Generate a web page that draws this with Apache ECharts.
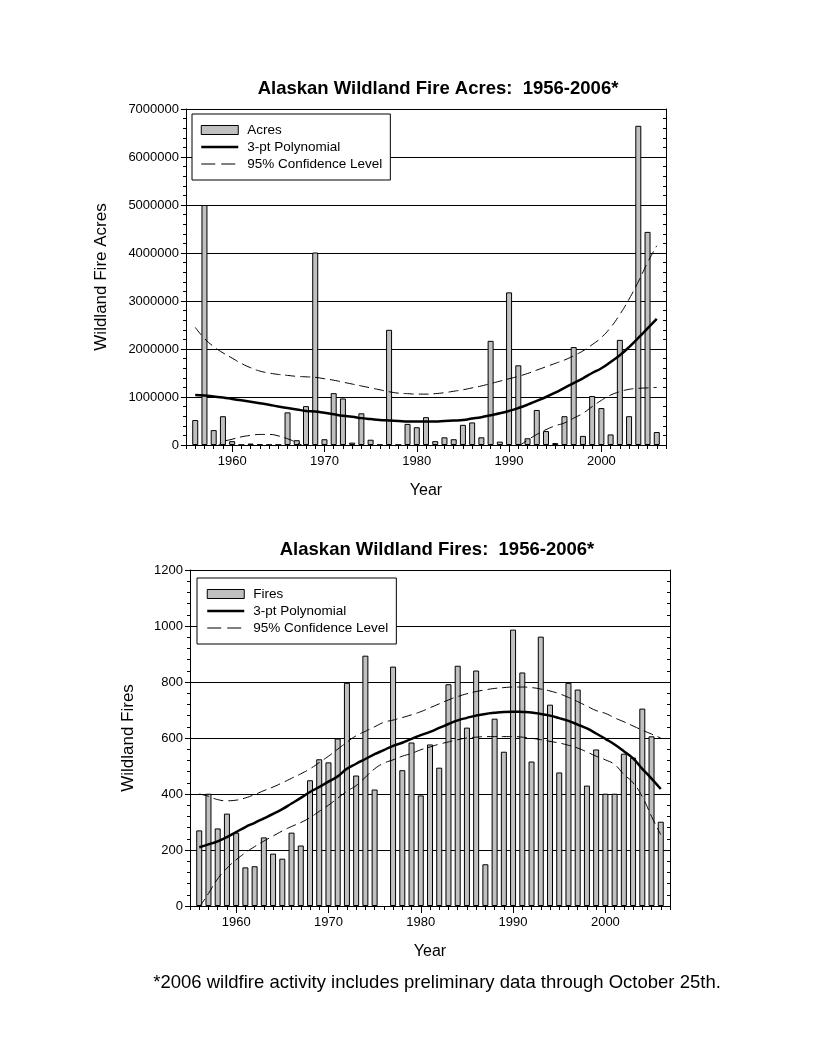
<!DOCTYPE html>
<html>
<head>
<meta charset="utf-8">
<script src="https://cdn.jsdelivr.net/npm/echarts@6/dist/echarts.min.js"></script>
<style>
html,body{margin:0;padding:0;background:#fff;}
#chart{width:816px;height:1056px;}
</style>
</head>
<body>
<div id="chart"></div>
<script>
// ---------- DATA ----------
const years = [1956,1957,1958,1959,1960,1961,1962,1963,1964,1965,
  1966,1967,1968,1969,1970,1971,1972,1973,1974,1975,
  1976,1977,1978,1979,1980,1981,1982,1983,1984,1985,
  1986,1987,1988,1989,1990,1991,1992,1993,1994,1995,
  1996,1997,1998,1999,2000,2001,2002,2003,2004,2005,2006];

const acres = [520000,5000000,310000,600000,80000,5000,30000,10000,5000,5000,
  680000,100000,810000,4010000,120000,1080000,970000,50000,660000,110000,
  5000,2400000,5000,440000,370000,580000,80000,160000,120000,420000,
  470000,160000,2170000,70000,3180000,1660000,140000,730000,290000,40000,
  600000,2040000,190000,1020000,770000,220000,2190000,600000,6650000,4440000,270000];

const acresPoly = [1040000,1030000,1010000,990000,960000,930000,900000,870000,840000,800000,
  770000,740000,710000,700000,670000,640000,610000,590000,560000,540000,
  520000,510000,500000,490000,490000,490000,490000,500000,510000,520000,
  550000,580000,620000,660000,710000,770000,840000,920000,1000000,1090000,
  1190000,1290000,1390000,1500000,1600000,1730000,1870000,2040000,2230000,2430000,2630000];

const acresUpper = [2450000,2220000,2050000,1920000,1810000,1700000,1610000,1540000,1500000,1470000,
  1450000,1430000,1420000,1410000,1380000,1350000,1310000,1270000,1230000,1190000,
  1150000,1110000,1080000,1070000,1060000,1060000,1070000,1090000,1120000,1150000,
  1190000,1230000,1280000,1330000,1380000,1430000,1490000,1560000,1630000,1700000,
  1770000,1860000,1960000,2090000,2240000,2450000,2720000,3040000,3400000,3800000,4150000];

const acresLower = [null,null,-100000,60000,120000,170000,200000,220000,220000,190000,
  130000,50000,-50000,null,null,null,null,null,null,null,
  null,null,null,null,null,null,null,null,null,null,
  null,null,null,null,null,-30000,100000,220000,320000,400000,
  460000,560000,660000,800000,930000,1040000,1110000,1160000,1180000,1190000,1200000];

const fires = [270,401,277,330,262,138,142,245,187,169,
  262,216,449,524,513,598,797,466,894,416,
  null,855,485,584,395,577,494,792,858,637,
  841,149,669,551,987,834,516,962,719,477,
  797,773,430,559,401,401,544,530,705,606,301];

const firesPoly = [210,220,231,246,264,282,297,313,329,346,
  366,386,407,425,444,463,490,508,525,542,
  557,572,583,597,610,622,636,650,663,672,
  680,686,690,693,694,693,691,686,680,671,
  661,648,634,616,597,577,553,527,490,455,418];

const firesUpper = [400,392,380,376,378,386,398,412,425,440,
  456,472,490,512,535,560,585,608,624,640,
  656,664,673,683,694,708,722,736,748,758,
  766,772,777,780,782,782,780,775,768,758,
  745,730,714,698,688,672,658,643,628,614,600];

const firesLower = [-5,45,97,135,165,190,212,232,250,268,
  284,298,316,338,360,385,410,430,460,490,
  510,522,535,545,558,568,578,586,594,600,
  603,605,605,605,605,603,599,594,588,582,
  574,564,550,535,522,505,470,440,390,320,255];

const acresTicks = {min: 0, max: 7000000, interval: 1000000};
const firesTicks = {min: 0, max: 1200, interval: 200};
const axisYears = ['1955'].concat(years.map(String), ['2007']);

// ---------- HELPERS ----------
const FONT = "'Liberation Sans', Arial, sans-serif";
const pad = arr => [null].concat(arr, [null]);
const isDecade = (i, v) => Number(v) % 10 === 0;

function xAxes(grid, name, gap) {
  return [
    {
      type: 'category', gridIndex: grid, data: axisYears, boundaryGap: false, position: 'bottom',
      name: name, nameLocation: 'middle', nameGap: gap,
      nameTextStyle: {fontFamily: FONT, fontSize: 16, color: '#000'},
      axisLine: {show: true, lineStyle: {color: '#000', width: 1}},
      axisTick: {show: true, interval: 0, length: 4, lineStyle: {color: '#000'}},
      axisLabel: {show: true, interval: isDecade, fontFamily: FONT, fontSize: 13, color: '#000', margin: 10},
      splitLine: {show: false}
    },
    {
      type: 'category', gridIndex: grid, data: axisYears, boundaryGap: false, position: 'bottom', offset: 0,
      axisLine: {show: false},
      axisTick: {show: true, interval: isDecade, length: 7, lineStyle: {color: '#000'}},
      axisLabel: {show: false},
      splitLine: {show: false}
    }
  ];
}

function yAxes(grid, ticks, name, gap) {
  return [
    {
      type: 'value', gridIndex: grid, position: 'left',
      min: ticks.min, max: ticks.max, interval: ticks.interval,
      name: name, nameLocation: 'middle', nameGap: gap, nameRotate: 90,
      nameTextStyle: {fontFamily: FONT, fontSize: 17, color: '#000'},
      axisLine: {show: true, lineStyle: {color: '#000', width: 1}},
      axisTick: {show: true, length: 5, lineStyle: {color: '#000'}},
      minorTick: {show: true, splitNumber: 5, length: 3, lineStyle: {color: '#000'}},
      axisLabel: {fontFamily: FONT, fontSize: 13, color: '#000', margin: 7, formatter: v => String(v)},
      splitLine: {show: true, lineStyle: {color: '#000', width: 1}}
    },
    {
      type: 'value', gridIndex: grid, position: 'right',
      min: ticks.min, max: ticks.max, interval: ticks.interval,
      axisLine: {show: true, lineStyle: {color: '#000', width: 1}},
      axisTick: {show: true, inside: true, length: 5, lineStyle: {color: '#000'}},
      minorTick: {show: true, splitNumber: 5, length: 3, lineStyle: {color: '#000'}},
      axisLabel: {show: false},
      splitLine: {show: false}
    }
  ];
}

function seriesSet(xi, yi, barName, bars, poly, upper, lower) {
  const dash = {color: '#000', width: 1, type: [10, 5]};
  return [
    {name: barName, type: 'bar', xAxisIndex: xi, yAxisIndex: yi, data: pad(bars), barWidth: 6,
      itemStyle: {color: '#c0c0c0', borderColor: '#000', borderWidth: 1}, z: 2},
    {name: '3-pt Polynomial', type: 'line', xAxisIndex: xi, yAxisIndex: yi, data: pad(poly),
      smooth: true, symbol: 'none', lineStyle: {color: '#000', width: 2.5}, itemStyle: {color: '#000'}, z: 4},
    {name: '95% Confidence Level', type: 'line', xAxisIndex: xi, yAxisIndex: yi, data: pad(upper),
      smooth: true, symbol: 'none', lineStyle: dash, itemStyle: {color: '#000'}, z: 3},
    {name: '95% Confidence Level', type: 'line', xAxisIndex: xi, yAxisIndex: yi, data: pad(lower),
      smooth: true, symbol: 'none', connectNulls: false, lineStyle: dash, itemStyle: {color: '#000'}, z: 3}
  ];
}

function legend(barName, left, top, iconLeft) {
  const noSymbol = {opacity: 0, color: 'rgba(0,0,0,0)', borderWidth: 0};
  return {
    data: [
      {name: barName, icon: 'rect', itemStyle: {color: '#c0c0c0', borderColor: '#000', borderWidth: 1}},
      {name: '3-pt Polynomial', itemStyle: noSymbol, lineStyle: {color: '#000', width: 2.5, type: 'solid'}},
      {name: '95% Confidence Level', itemStyle: noSymbol, lineStyle: {color: '#000', width: 1, type: [14, 6]}}
    ],
    orient: 'vertical', left: left, top: top,
    padding: [9, 8, 9, iconLeft], itemGap: 3, itemWidth: 37, itemHeight: 9,
    borderColor: '#000', borderWidth: 1, backgroundColor: '#fff',
    selectedMode: false,
    textStyle: {fontFamily: FONT, fontSize: 13.5, color: '#000', lineHeight: 14, padding: [0, 0, 0, 4]}
  };
}

const chart = echarts.init(document.getElementById('chart'), null, {renderer: 'canvas'});
chart.setOption({
  animation: false,
  backgroundColor: '#fff',
  grid: [
    {left: 186, top: 109, width: 480, height: 336, containLabel: false},
    {left: 190, top: 570, width: 480, height: 336, containLabel: false}
  ],
  xAxis: xAxes(0, 'Year', 38).concat(xAxes(1, 'Year', 38)),
  yAxis: yAxes(0, acresTicks, 'Wildland Fire Acres', 76).concat(yAxes(1, firesTicks, 'Wildland Fires', 53)),
  legend: [legend('Acres', 192, 114, 8), legend('Fires', 197, 578, 9)],
  series: seriesSet(0, 0, 'Acres', acres, acresPoly, acresUpper, acresLower)
    .concat(seriesSet(2, 2, 'Fires', fires, firesPoly, firesUpper, firesLower)),
  graphic: [
    {type: 'text', x: 438, y: 89, style: {text: 'Alaskan Wildland Fire Acres:  1956-2006*', font: "bold 18.5px 'Liberation Sans', Arial, sans-serif", fill: '#000', align: 'center', verticalAlign: 'middle'}},
    {type: 'text', x: 437, y: 550, style: {text: 'Alaskan Wildland Fires:  1956-2006*', font: "bold 18.5px 'Liberation Sans', Arial, sans-serif", fill: '#000', align: 'center', verticalAlign: 'middle'}},
    {type: 'text', x: 437, y: 983, style: {text: '*2006 wildfire activity includes preliminary data through October 25th.', font: "18.5px 'Liberation Sans', Arial, sans-serif", fill: '#000', align: 'center', verticalAlign: 'middle'}}
  ]
});
</script>
</body>
</html>
